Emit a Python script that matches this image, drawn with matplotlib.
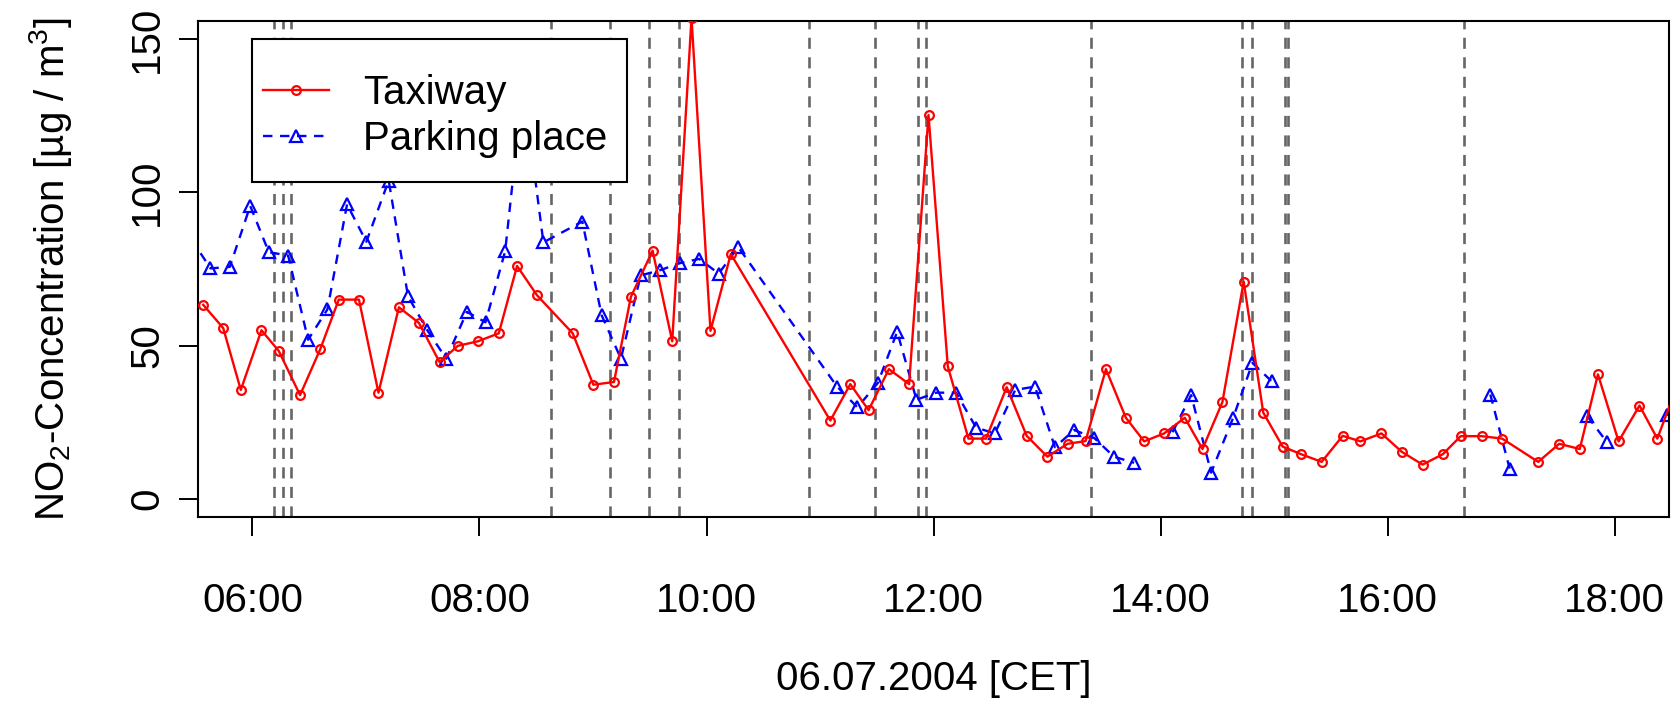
import numpy as np
import matplotlib
matplotlib.use("Agg")
from matplotlib import pyplot as plt
from matplotlib.patches import Rectangle

plt.rcParams['font.family'] = ['Liberation Sans', 'DejaVu Sans']
plt.rcParams['mathtext.fontset'] = 'custom'
plt.rcParams['mathtext.rm'] = 'Liberation Sans'
plt.rcParams['mathtext.default'] = 'regular'

nan = np.nan

# time of day in decimal hours, NO2 in ug/m3
taxi_t = [5.566, 5.742, 5.897, 6.079, 6.232, 6.419, 6.598, 6.760, 6.938, 7.110,
          7.290, 7.466, 7.648, 7.809, 7.988, 8.170, 8.331, 8.507, 8.821, 9.003,
          9.185, 9.334, 9.525, 9.698, 9.868, 10.035, 10.214, 11.091, 11.267, 11.428,
          11.607, 11.785, 11.956, 12.126, 12.308, 12.463, 12.645, 12.821, 13.003, 13.182,
          13.340, 13.519, 13.695, 13.856, 14.032, 14.214, 14.370, 14.545, 14.733, 14.905,
          15.076, 15.239, 15.420, 15.605, 15.762, 15.947, 16.125, 16.309, 16.487, 16.645,
          16.829, 17.010, 17.328, 17.513, 17.694, 17.854, 18.036, 18.220, 18.377, 18.550]
taxi_v = [63.3, 55.7, 35.5, 55.0, 48.2, 33.8, 48.9, 65.0, 65.0, 34.6,
          62.5, 57.4, 44.6, 49.9, 51.4, 54.0, 76.0, 66.4, 54.0, 37.2,
          38.1, 65.9, 81.0, 51.4, 157.0, 54.8, 79.9, 25.5, 37.4, 28.9,
          42.3, 37.4, 125.3, 43.2, 19.6, 19.6, 36.4, 20.5, 13.7, 17.9,
          18.8, 42.3, 26.4, 18.7, 21.3, 26.4, 16.2, 31.5, 70.9, 28.1,
          17.0, 14.5, 12.0, 20.5, 18.7, 21.3, 15.3, 11.1, 14.5, 20.4,
          20.4, 19.6, 12.0, 17.9, 16.2, 40.6, 18.7, 30.4, 19.6, 36.7]

park_t = [5.460, 5.630, 5.800, 5.980, 6.144, 6.314, 6.490, 6.660, 6.833, 7.003,
          7.200, 7.370, 7.540, 7.707, 7.889, 8.053, 8.226, 8.384, 8.563, 8.906,
          9.076, 9.246, 9.420, 9.590, 9.765, 9.935, 10.108, 10.279, 11.150, 11.330,
          11.510, 11.680, 11.850, 12.023, 12.200, 12.375, 12.540, 12.720, 12.894, 13.070,
          13.240, 13.416, 13.590, 13.768, 13.940, 14.106, 14.270, 14.446, 14.640, 14.810,
          14.980, 15.100, 16.906, 17.076, 17.400, 17.759, 17.932, 18.200, 18.460, 18.630]
park_v = [84.8, 75.2, 75.7, 95.6, 80.5, 79.4, 51.9, 61.8, 96.1, 83.9,
          103.9, 66.1, 55.0, 45.7, 61.0, 57.6, 80.8, 135.0, 83.7, 90.5,
          59.9, 45.7, 72.9, 74.6, 76.9, 78.3, 73.5, 82.2, 36.6, 29.8,
          37.8, 54.5, 32.3, 34.6, 34.6, 23.2, 21.3, 35.5, 36.6, 16.8,
          22.4, 19.8, 13.7, 11.7, nan, 21.7, 33.8, 8.5, 26.4, 44.3,
          38.3, nan, 34.0, 9.8, nan, 27.0, 18.5, nan, 27.2, 34.8]

# event times (dashed lines)
event_t = [6.190, 6.272, 6.338, 8.632, 9.150, 9.490, 9.757, 10.902, 11.484, 11.862,
           11.930, 13.390, 14.722, 14.808, 15.100, 15.120, 16.670]

hour_ticks = [6, 8, 10, 12, 14, 16, 18]
hour_labels = ["06:00", "08:00", "10:00", "12:00", "14:00", "16:00", "18:00"]
conc_ticks = [0, 50, 100, 150]

fs = 29

fig = plt.figure(figsize=(16.71, 7.03), dpi=100)
ax = fig.add_axes([0.1185, 0.2646, 0.8803, 0.7055])

for t in event_t:
    ax.axvline(t, color='#666666', lw=1.9, dashes=(4.2, 3.2), zorder=1)

ax.plot(taxi_t, taxi_v, color='red', lw=1.7, marker='o', ms=6.3,
        mfc='none', mew=1.6, label='Taxiway', zorder=3)
ax.plot(park_t, park_v, color='blue', lw=1.7, dashes=(4, 3.2), marker='^', ms=9,
        mfc='none', mew=1.6, label='Parking place', zorder=2)

ax.set_xlim(5.52, 18.48)
ax.set_ylim(-6, 156)
ax.set_xticks(hour_ticks)
ax.set_xticklabels(hour_labels)
ax.set_yticks(conc_ticks)
ax.tick_params(axis='both', direction='out', length=14, width=1.4, labelsize=fs)
ax.tick_params(axis='x', pad=33)
ax.tick_params(axis='y', pad=9)
for lab in ax.get_yticklabels():
    lab.set_rotation(90)
    lab.set_va('center')
    lab.set_ha('right')
for s in ax.spines.values():
    s.set_linewidth(1.5)

ax.set_xlabel('06.07.2004 [CET]', fontsize=fs)
ax.xaxis.set_label_coords(0.5, -0.288)
ax.set_ylabel('NO$_2$-Concentration [µg / m$^3$]', fontsize=fs)
ax.yaxis.set_label_coords(-0.0843, 0.5)

# legend box (R style), anchored at 06:00 / 150
ax.add_patch(Rectangle((6.0, 103.5), 3.297, 46.5, facecolor='white', edgecolor='black',
                       lw=1.5, zorder=4))
leg = ax.legend(loc='upper left', bbox_to_anchor=(6.0925, 138.6), bbox_transform=ax.transData,
                fontsize=fs, frameon=False, borderaxespad=0, borderpad=0,
                handlelength=1.638, handletextpad=0.84, labelspacing=0.2, numpoints=1)
leg.set_zorder(5)

fig.savefig('out.png', dpi=100)
